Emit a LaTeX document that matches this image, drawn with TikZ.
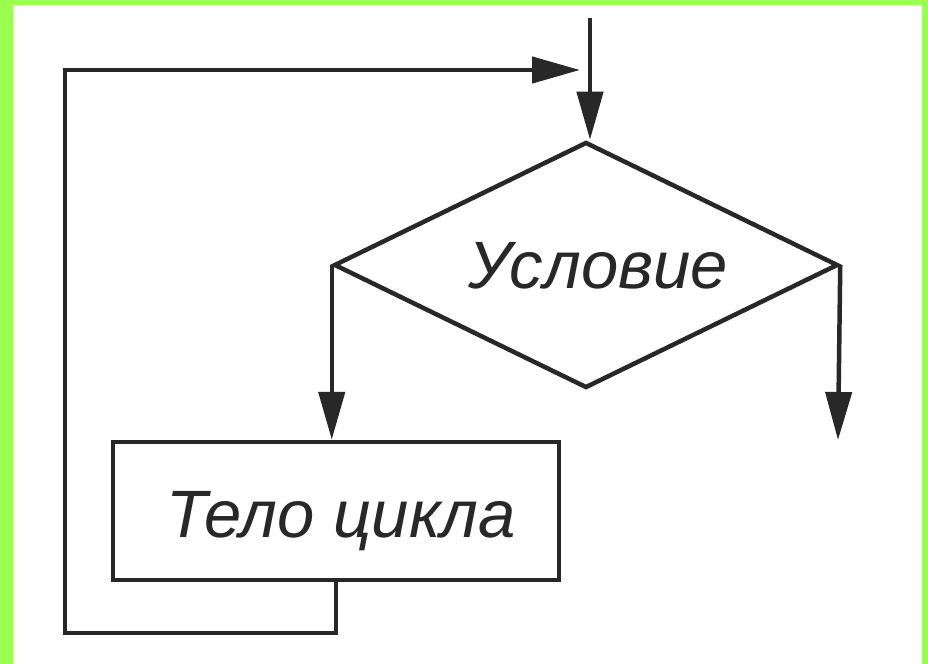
\documentclass[tikz,border=0pt]{standalone}
\usepackage{fontspec}
\setmainfont{Liberation Sans}
\usetikzlibrary{shapes.geometric,arrows.meta}
\definecolor{limeframe}{RGB}{155,255,80}
\definecolor{ink}{RGB}{40,40,40}
\begin{document}
\begin{tikzpicture}[x=1bp,y=-1bp,
  line/.style={draw=ink,line width=4.5bp},
  arr/.style={line,-{Triangle[length=48bp,width=26bp]}},
  lbl/.style={text=ink,font=\fontsize{67.25pt}{80pt}\selectfont\itshape,inner sep=0pt,anchor=base},
  decide/.style={line,diamond,minimum width=504bp,minimum height=246bp,inner sep=0pt},
  bodybox/.style={line,rectangle,minimum width=446bp,minimum height=138bp,inner sep=0pt}]
% background and frame
\fill[limeframe] (0,0) rectangle (928,664);
\fill[white] (13,5) rectangle (922,664);
\useasboundingbox (0,0) rectangle (928,664);
% nodes
\node[decide] (dia) at (586,265) {};
\node[lbl] (cond) at (598,288) {Условие};
\node[bodybox] (body) at (336,511) {};
\node[lbl] (bodytxt) at (341,537) {Тело цикла};
% helper coordinates
\coordinate (entry) at (590,18);
\coordinate (exitR) at (838,440);
\coordinate (loopA) at (336,633);
\coordinate (loopB) at (65,633);
\coordinate (loopC) at (65,70);
\coordinate (loopEnd) at (580,70);
% connectors
\draw[arr] (entry) -- (entry |- dia.north);
\draw[arr] (dia.west) -- (dia.west |- body.north);
\draw[arr] (dia.east) -- (exitR);
\draw[arr,line join=miter] (body.south) -- (loopA) -- (loopB) -- (loopC) -- (loopEnd);
\end{tikzpicture}
\end{document}
